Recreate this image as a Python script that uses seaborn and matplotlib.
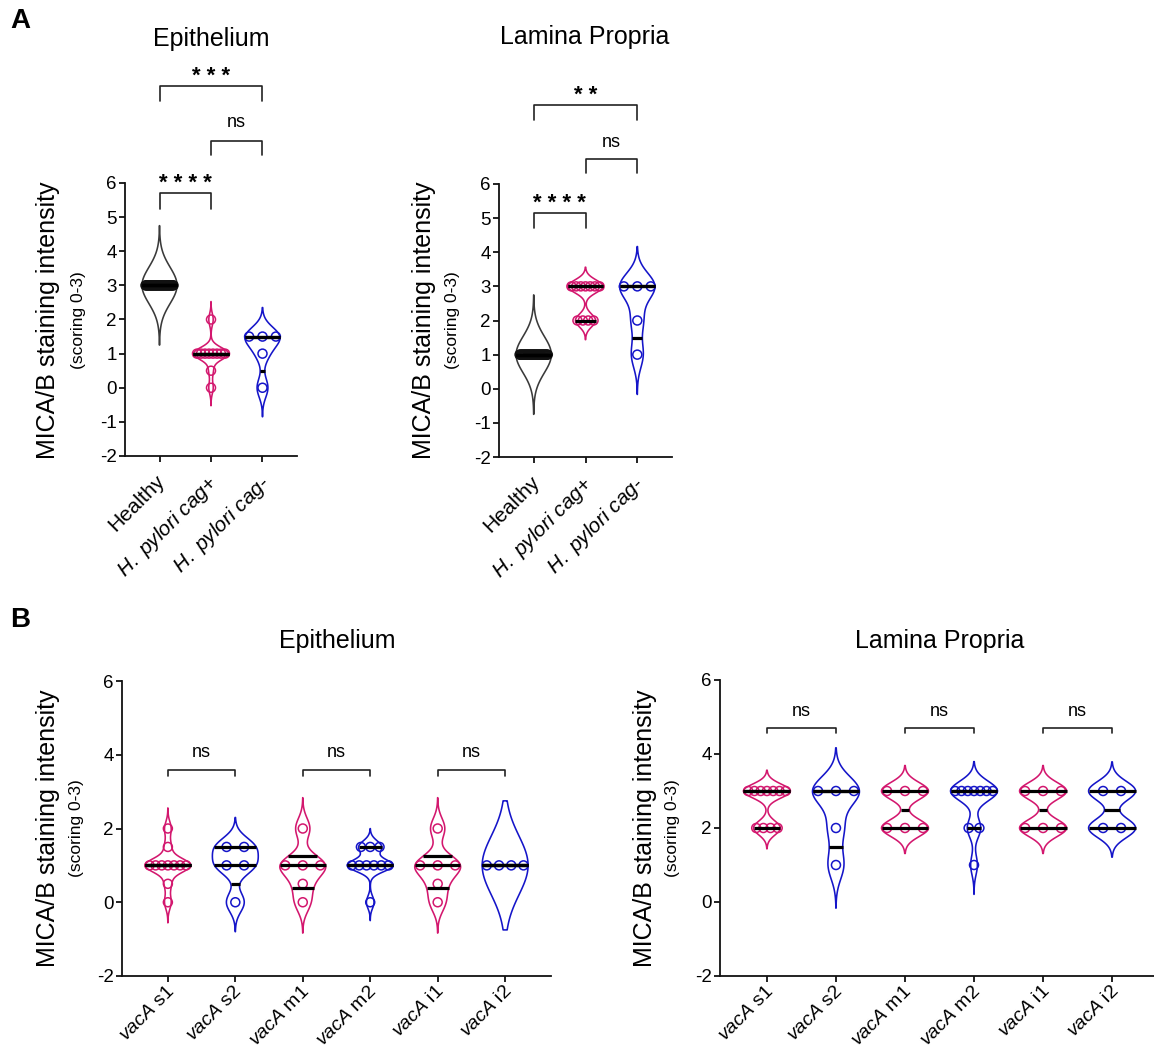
import numpy as np
import matplotlib
matplotlib.use("Agg")
import matplotlib.pyplot as plt
from matplotlib.transforms import ScaledTranslation
import seaborn as sns

sns.set_theme(style="ticks")
plt.rcParams["font.family"] = ["Liberation Sans", "DejaVu Sans"]
plt.rcParams["mathtext.fontset"] = "custom"
plt.rcParams["mathtext.it"] = "Liberation Sans:italic"
plt.rcParams["mathtext.rm"] = "Liberation Sans"
plt.rcParams["mathtext.bf"] = "Liberation Sans:bold"
for key in ("text.color", "axes.labelcolor", "xtick.color", "ytick.color", "axes.edgecolor"):
    plt.rcParams[key] = "black"

# ---------------- data ----------------
infection_labels = [r"Healthy", r"$\mathit{H.\ pylori\ cag}$+", r"$\mathit{H.\ pylori\ cag}$-"]
epi_healthy = [3] * 30
epi_cag_pos = [2, 1, 1, 1, 1, 1, 1, 1, 1, 0.5, 0]
epi_cag_neg = [1.5, 1.5, 1.5, 1, 0]
lp_healthy = [1] * 30
lp_cag_pos = [3, 3, 3, 3, 3, 3, 3, 2, 2, 2, 2]
lp_cag_neg = [3, 3, 3, 2, 1]

vaca_labels = [r"$\mathit{vacA}$ s1", r"$\mathit{vacA}$ s2", r"$\mathit{vacA}$ m1",
               r"$\mathit{vacA}$ m2", r"$\mathit{vacA}$ i1", r"$\mathit{vacA}$ i2"]
epi_s1 = [2, 1.5, 1, 1, 1, 1, 1, 1, 1, 0.5, 0]
epi_s2 = [1.5, 1.5, 1, 1, 0]
epi_m1 = [2, 1, 1, 1, 0.5, 0]
epi_m2 = [1.5, 1.5, 1.5, 1, 1, 1, 1, 1, 1, 0]
epi_i1 = [2, 1, 1, 1, 0.5, 0]
epi_i2 = [1, 1, 1, 1]
lp_s1 = [3, 3, 3, 3, 3, 3, 3, 2, 2, 2, 2]
lp_s2 = [3, 3, 3, 2, 1]
lp_m1 = [3, 3, 3, 2, 2, 2]
lp_m2 = [3, 3, 3, 3, 3, 3, 3, 2, 2, 1]
lp_i1 = [3, 3, 3, 2, 2, 2]
lp_i2 = [3, 3, 2, 2]

sig_a_epi = ["* * * *", "ns", "* * *"]
sig_a_lp = ["* * * *", "ns", "* *"]
sig_b = ["ns", "ns", "ns"]

MAGENTA = "#D3176E"
BLUE = "#1515C9"
GREY = "#3A3A3A"
HALF = 0.34

W, H = 1154, 1052
fig = plt.figure(figsize=(W / 100, H / 100), dpi=100)


def px_axes(left, top, right, bottom):
    return fig.add_axes([left / W, 1 - bottom / H, (right - left) / W, (bottom - top) / H])


def kde_curve(values):
    v = np.asarray(values, float)
    n = len(v)
    sd = v.std(ddof=1)
    if sd > 0:
        h = 0.6 * sd * n ** (-0.2)
        lo, hi = v.min() - 3 * h, v.max() + 3 * h
    else:
        h = 1.05 * n ** (-0.2)
        lo, hi = v.min() - 1.75, v.max() + 1.75
    grid = np.linspace(lo, hi, 400)
    dens = np.exp(-0.5 * ((grid[:, None] - v[None, :]) / h) ** 2).sum(axis=1)
    return grid, dens / dens.max()


def draw_violin(ax, pos, values, color, point_color):
    v = np.asarray(values, float)
    grid, dens = kde_curve(v)
    hw = HALF * dens
    ax.fill_betweenx(grid, pos - hw, pos + hw, facecolor="none",
                     edgecolor=color, linewidth=1.15, zorder=2)
    xs, ys = [], []
    vals, counts = np.unique(v, return_counts=True)
    for val, k in zip(vals, counts):
        w = 0.8 * np.interp(val, grid, hw)
        step = min(0.26, 2 * w / (k - 1)) if k > 1 else 0.0
        offs = (np.arange(k) - (k - 1) / 2) * step
        xs.extend(pos + offs)
        ys.extend([val] * k)
    sns.scatterplot(x=xs, y=ys, ax=ax, marker="o", s=42, facecolor="none",
                    edgecolor=point_color, linewidth=1.1, zorder=3, legend=False)
    q1, med, q3 = np.quantile(v, [0.25, 0.5, 0.75], method="weibull")
    for q in (q1, q3, med):
        half = np.interp(q, grid, hw)
        ax.plot([pos - half, pos + half], [q, q], color="black", lw=2.3,
                solid_capstyle="butt", zorder=4)


def bracket(ax, x1, x2, y, leg, label, ty, size, bold=False):
    ax.plot([x1, x1, x2, x2], [y - leg, y, y, y - leg], color="#222222", lw=1.2,
            clip_on=False, zorder=5)
    ax.text((x1 + x2) / 2, ty, label, ha="center", va="center", fontsize=size,
            fontweight="bold" if bold else "normal", clip_on=False, color="black")


def style_axes(ax, xlim, yticks, labels, dx_px, dy_px, xsize):
    ax.set_xlim(*xlim)
    ax.set_ylim(-2, 6)
    ax.set_yticks(yticks)
    ax.set_yticklabels([str(t) for t in yticks], fontsize=13.5)
    ax.set_xticks(range(len(labels)))
    ax.set_xticklabels(labels, fontsize=xsize, rotation=45, ha="right", va="top",
                       rotation_mode="anchor")
    for sp in ("top", "right"):
        ax.spines[sp].set_visible(False)
    for sp in ("left", "bottom"):
        ax.spines[sp].set_linewidth(1.3)
        ax.spines[sp].set_color("#111111")
    ax.tick_params(axis="both", direction="out", length=4, width=1.3, color="#111111")
    ax.tick_params(axis="x", pad=0)
    ax.tick_params(axis="y", pad=2)
    off = ScaledTranslation(dx_px / 100, -dy_px / 100, fig.dpi_scale_trans)
    for lab in ax.get_xticklabels():
        lab.set_transform(lab.get_transform() + off)
    ax.set_facecolor("none")
    ax.grid(False)


def ylabels(xbig, xsmall, ycenter):
    fig.text(xbig / W, 1 - ycenter / H, "MICA/B staining intensity", rotation=90,
             ha="center", va="center", fontsize=18)
    fig.text(xsmall / W, 1 - ycenter / H, "(scoring 0-3)", rotation=90,
             ha="center", va="center", fontsize=12.5)


# ---------------- panel A ----------------
ax1 = px_axes(125, 183, 297, 456)
ax2 = px_axes(499, 184, 672, 457)
for ax, groups in ((ax1, (epi_healthy, epi_cag_pos, epi_cag_neg)),
                   (ax2, (lp_healthy, lp_cag_pos, lp_cag_neg))):
    draw_violin(ax, 0, groups[0], GREY, "#111111")
    draw_violin(ax, 1, groups[1], MAGENTA, MAGENTA)
    draw_violin(ax, 2, groups[2], BLUE, BLUE)
    style_axes(ax, (-0.67, 2.67), list(range(-2, 7)), infection_labels, -4, 10, 15)

bracket(ax1, 0, 1, 5.71, 0.47, sig_a_epi[0], 5.98, 16, True)
bracket(ax1, 1, 2, 7.23, 0.41, sig_a_epi[1], 7.76, 13)
bracket(ax1, 0, 2, 8.84, 0.44, sig_a_epi[2], 9.11, 16, True)
bracket(ax2, 0, 1, 5.15, 0.44, sig_a_lp[0], 5.42, 16, True)
bracket(ax2, 1, 2, 6.73, 0.41, sig_a_lp[1], 7.23, 13)
bracket(ax2, 0, 2, 8.31, 0.43, sig_a_lp[2], 8.58, 16, True)

fig.text(211 / W, 1 - 39 / H, "Epithelium", ha="center", va="center", fontsize=18)
fig.text(585 / W, 1 - 37 / H, "Lamina Propria", ha="center", va="center", fontsize=18)
ylabels(48, 79, 320)
ylabels(424, 453, 320)

# ---------------- panel B ----------------
ax3 = px_axes(122, 681, 551, 976)
ax4 = px_axes(720, 680, 1159, 976)
epi_b = (epi_s1, epi_s2, epi_m1, epi_m2, epi_i1, epi_i2)
lp_b = (lp_s1, lp_s2, lp_m1, lp_m2, lp_i1, lp_i2)
for ax, groups in ((ax3, epi_b), (ax4, lp_b)):
    for i, g in enumerate(groups):
        col = MAGENTA if i % 2 == 0 else BLUE
        draw_violin(ax, i, g, col, col)
    style_axes(ax, (-0.68, 5.68), [-2, 0, 2, 4, 6], vaca_labels, -2, 1, 14)

for j, lab in enumerate(sig_b):
    bracket(ax3, 2 * j, 2 * j + 1, 3.59, 0.16, lab, 4.05, 13)
    bracket(ax4, 2 * j, 2 * j + 1, 4.70, 0.14, lab, 5.14, 13)

fig.text(337 / W, 1 - 641 / H, "Epithelium", ha="center", va="center", fontsize=18)
fig.text(940 / W, 1 - 641 / H, "Lamina Propria", ha="center", va="center", fontsize=18)
ylabels(48, 77, 828)
ylabels(645, 673, 828)

fig.text(20 / W, 1 - 21 / H, "A", ha="center", va="center", fontsize=20, fontweight="bold")
fig.text(20 / W, 1 - 620 / H, "B", ha="center", va="center", fontsize=20, fontweight="bold")

fig.savefig("out.png", dpi=100, facecolor="white")
